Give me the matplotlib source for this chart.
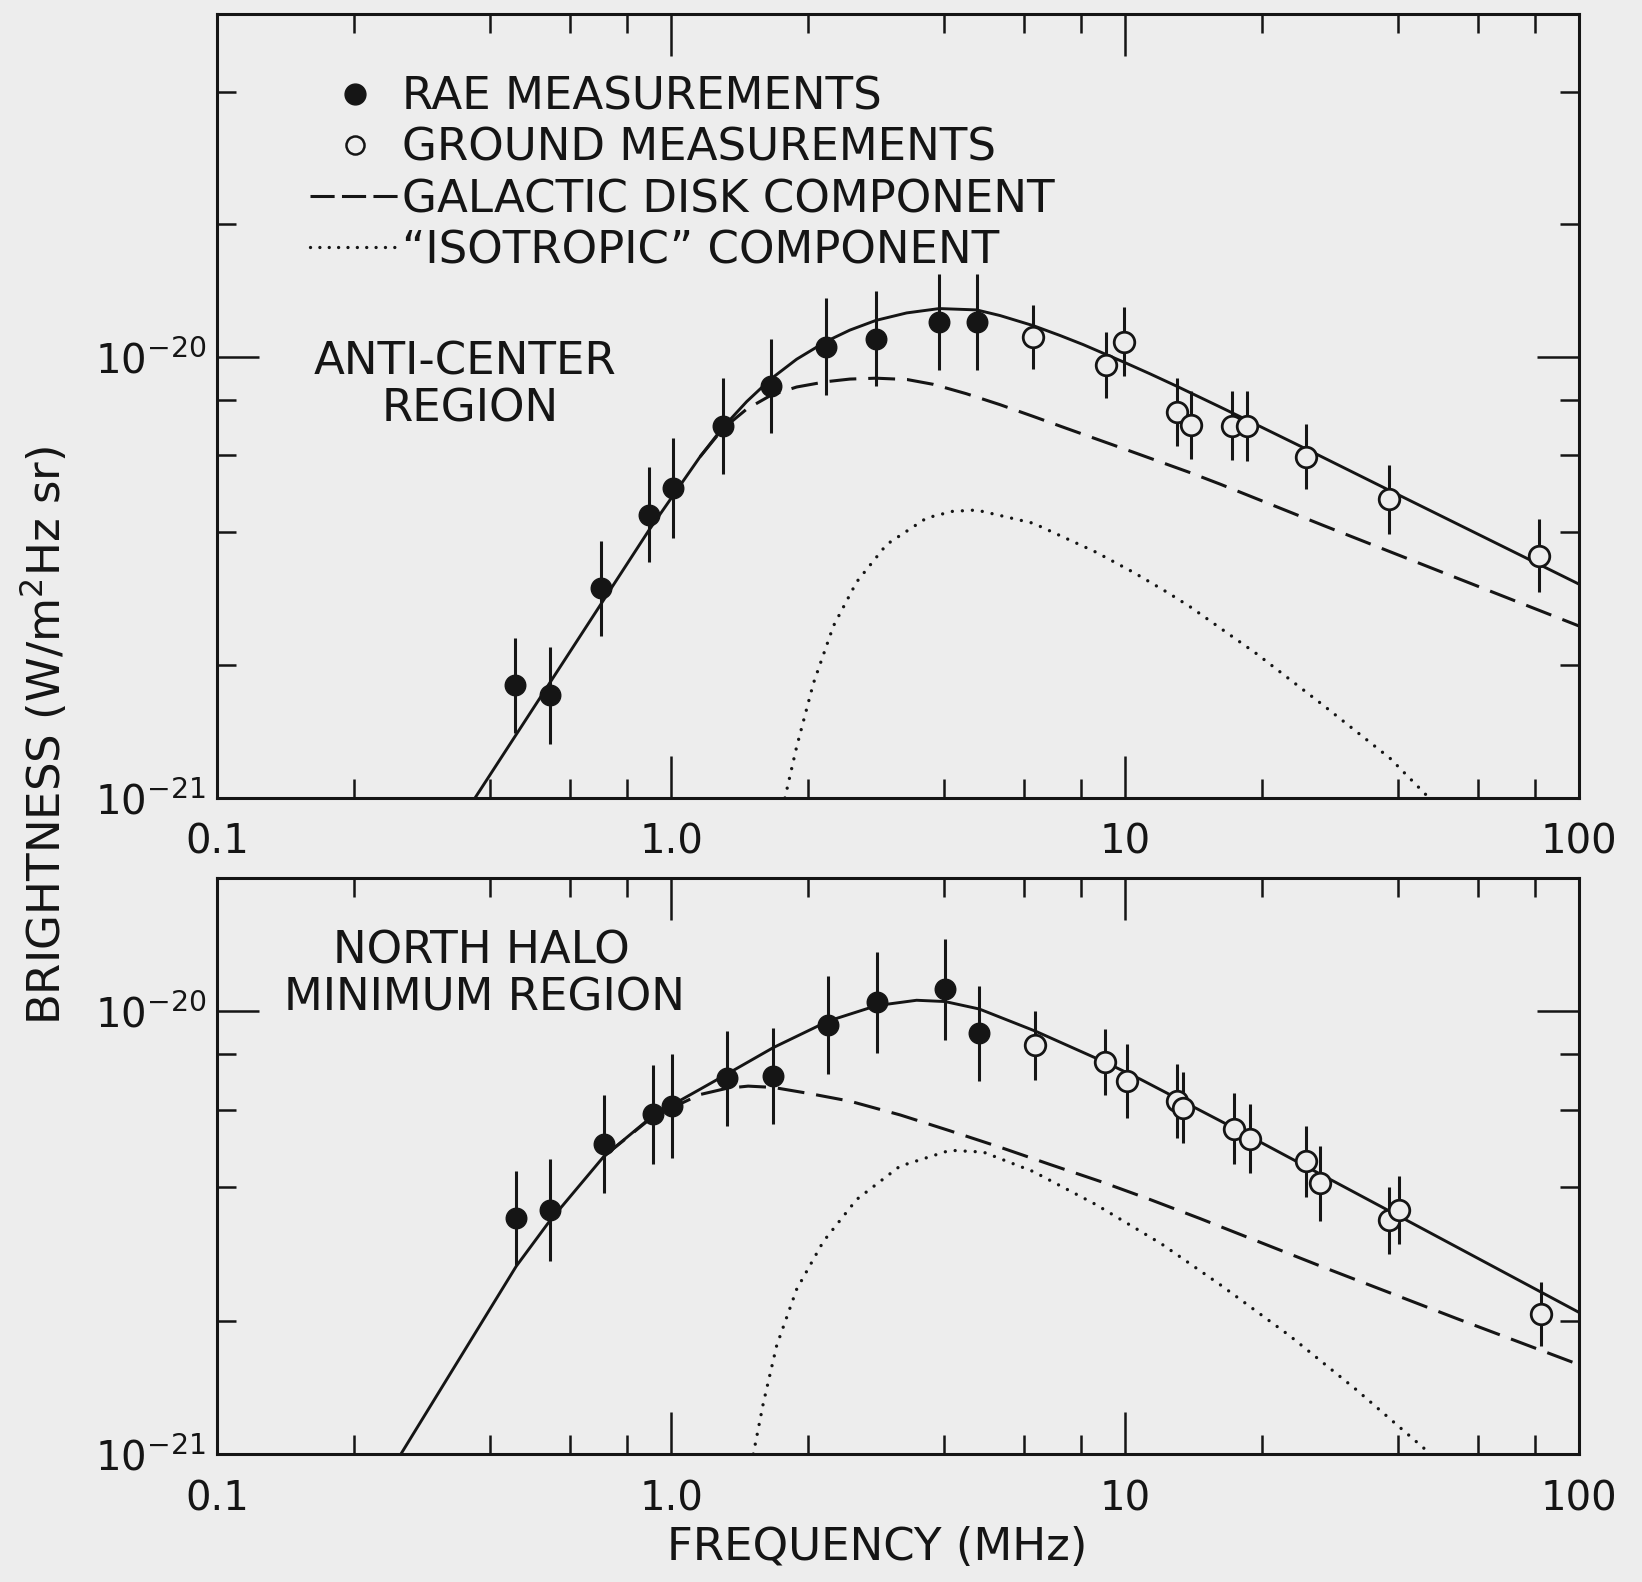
import numpy as np
import matplotlib
matplotlib.use('Agg')
import matplotlib.pyplot as plt
from matplotlib.lines import Line2D
from matplotlib.ticker import FixedLocator, FixedFormatter, NullFormatter

# ---------------- data (frequency in MHz, brightness in W m^-2 Hz^-1 sr^-1) ----------------
# Anti-center region
ac_rae_f = [0.453, 0.542, 0.702, 0.896, 1.01, 1.30, 1.66, 2.19, 2.83, 3.90, 4.71]
ac_rae_b = [1.80e-21, 1.71e-21, 2.99e-21, 4.39e-21, 5.04e-21, 6.98e-21, 8.59e-21,
            1.054e-20, 1.10e-20, 1.20e-20, 1.20e-20]
ac_rae_err = [0.107, 0.110, 0.108, 0.108, 0.113, 0.108, 0.107, 0.110, 0.108, 0.108, 0.108]  # dex

ac_gnd_f = [6.28, 9.08, 9.97, 13.0, 14.0, 17.2, 18.6, 25.0, 38.1, 81.8]
ac_gnd_b = [1.109e-20, 9.59e-21, 1.084e-20, 7.52e-21, 7.01e-21, 6.98e-21, 6.98e-21,
            5.94e-21, 4.76e-21, 3.54e-21]
ac_gnd_err = [0.073, 0.075, 0.078, 0.077, 0.077, 0.078, 0.080, 0.074, 0.078, 0.083]  # dex

ac_total_f = [0.370, 0.895, 1.159, 1.300, 1.468, 1.658, 1.891, 2.193, 2.477, 2.828, 3.304,
              3.899, 4.710, 5.304, 6.281, 7.194, 8.091, 9.966, 11.35, 12.99, 16.18, 18.58,
              25.00, 38.34, 100.0]
ac_total_b = [1.000e-21, 4.055e-21, 5.943e-21, 6.918e-21, 7.925e-21, 8.913e-21, 9.886e-21,
              1.084e-20, 1.151e-20, 1.211e-20, 1.259e-20, 1.288e-20, 1.279e-20, 1.242e-20,
              1.178e-20, 1.119e-20, 1.067e-20, 9.727e-21, 9.162e-21, 8.590e-21, 7.709e-21,
              7.194e-21, 6.194e-21, 4.977e-21, 3.055e-21]

ac_disk_f = [1.159, 1.300, 1.468, 1.658, 1.891, 2.193, 2.477, 2.828, 3.311, 3.784, 4.467,
             5.304, 6.293, 7.440, 10.00, 13.90, 16.18, 27.35, 53.78, 100.0]
ac_disk_b = [5.943e-21, 6.871e-21, 7.621e-21, 8.185e-21, 8.551e-21, 8.790e-21, 8.913e-21,
             8.954e-21, 8.892e-21, 8.670e-21, 8.260e-21, 7.798e-21, 7.328e-21, 6.887e-21,
             6.180e-21, 5.470e-21, 5.152e-21, 4.150e-21, 3.155e-21, 2.455e-21]

ac_iso_f = [1.782, 1.891, 2.059, 2.279, 2.564, 2.985, 3.656, 4.169, 4.710, 6.281, 8.610,
            10.47, 12.36, 13.90, 19.50, 27.35, 38.37, 46.77]
ac_iso_b = [1.000e-21, 1.306e-21, 1.820e-21, 2.455e-21, 3.090e-21, 3.758e-21, 4.315e-21,
            4.467e-21, 4.498e-21, 4.198e-21, 3.614e-21, 3.243e-21, 2.931e-21, 2.716e-21,
            2.123e-21, 1.622e-21, 1.230e-21, 1.000e-21]

# North halo minimum region
nh_rae_f = [0.456, 0.542, 0.711, 0.911, 1.005, 1.33, 1.68, 2.22, 2.84, 4.01, 4.78]
nh_rae_b = [3.41e-21, 3.55e-21, 5.02e-21, 5.85e-21, 6.11e-21, 7.05e-21, 7.14e-21,
            9.31e-21, 1.047e-20, 1.122e-20, 8.91e-21]
nh_rae_err = [0.106, 0.115, 0.111, 0.111, 0.117, 0.108, 0.109, 0.111, 0.114, 0.114, 0.107]

nh_gnd_f = [6.35, 9.04, 10.1, 13.0, 13.4, 17.4, 18.9, 25.1, 26.9, 38.1, 40.2, 82.3]
nh_gnd_b = [8.38e-21, 7.67e-21, 6.95e-21, 6.27e-21, 6.05e-21, 5.43e-21, 5.16e-21,
            4.58e-21, 4.09e-21, 3.37e-21, 3.56e-21, 2.07e-21]
nh_gnd_err = [0.078, 0.075, 0.083, 0.083, 0.080, 0.080, 0.077, 0.080, 0.085, 0.075, 0.077, 0.072]

nh_total_f = [0.2541, 0.456, 0.540, 0.711, 0.912, 1.159, 1.327, 1.680, 2.221, 2.838, 3.475,
              4.013, 4.775, 6.353, 9.036, 10.79, 16.18, 19.50, 38.37, 100.0]
nh_total_b = [1.000e-21, 2.655e-21, 3.357e-21, 4.699e-21, 5.808e-21, 6.668e-21, 7.211e-21,
              8.279e-21, 9.506e-21, 1.030e-20, 1.059e-20, 1.052e-20, 1.012e-20, 9.016e-21,
              7.674e-21, 7.031e-21, 5.662e-21, 5.117e-21, 3.532e-21, 2.089e-21]

nh_disk_f = [0.711, 0.912, 1.159, 1.327, 1.479, 1.680, 2.023, 2.477, 3.195, 4.117, 5.304,
             6.838, 8.810, 11.35, 14.62, 27.35, 53.78, 100.0]
nh_disk_b = [4.699e-21, 5.781e-21, 6.486e-21, 6.699e-21, 6.776e-21, 6.730e-21, 6.516e-21,
             6.266e-21, 5.834e-21, 5.370e-21, 4.932e-21, 4.508e-21, 4.130e-21, 3.758e-21,
             3.404e-21, 2.642e-21, 2.023e-21, 1.592e-21]

nh_iso_f = [1.518, 1.597, 1.709, 1.891, 2.165, 2.564, 3.192, 4.117, 4.875, 6.281, 8.610,
            12.02, 16.33, 23.07, 32.36, 46.13, 46.99]
nh_iso_b = [1.000e-21, 1.303e-21, 1.758e-21, 2.355e-21, 3.020e-21, 3.758e-21, 4.467e-21,
            4.853e-21, 4.808e-21, 4.345e-21, 3.664e-21, 2.985e-21, 2.399e-21, 1.849e-21,
            1.396e-21, 1.019e-21, 1.000e-21]

x_major = [0.1, 1.0, 10.0, 100.0]
x_major_labels = ['0.1', '1.0', '10', '100']
x_minor = [0.2, 0.4, 0.6, 0.8, 2, 4, 6, 8, 20, 40, 60, 80]
y_major = [1e-21, 1e-20]
y_major_labels = [r'$10^{-21}$', r'$10^{-20}$']
ac_y_minor = [2e-21, 4e-21, 6e-21, 8e-21, 2e-20, 4e-20]
nh_y_minor = [2e-21, 4e-21, 6e-21, 8e-21]

legend_labels = ['RAE MEASUREMENTS', 'GROUND MEASUREMENTS',
                 'GALACTIC DISK COMPONENT', '\u201cISOTROPIC\u201d COMPONENT']

# ---------------- style ----------------
INK = '#151515'
BG = '#ededed'
plt.rcParams['font.family'] = ['DejaVu Sans']
plt.rcParams['mathtext.fontset'] = 'dejavusans'
TXT = 32.5

fig = plt.figure(figsize=(16.42, 15.82), dpi=100, facecolor=BG)
ax1 = fig.add_axes([0.1322, 0.4956, 0.8294, 0.4956])
ax2 = fig.add_axes([0.1322, 0.0809, 0.8294, 0.3641])

DASH = (0, (8.8, 3.9))
DOT = (0, (0.01, 3.0))


def err(b, e):
    b = np.asarray(b, dtype=float)
    e = np.asarray(e, dtype=float)
    return [b - b * 10 ** (-e), b * 10 ** e - b]


def panel(ax, rf, rb, re, gf, gb, ge, tf, tb, df, db, isf, isb, ylim, yminor):
    ax.set_facecolor(BG)
    ax.set_xscale('log')
    ax.set_yscale('log')
    ax.plot(tf, tb, color=INK, lw=2.1, zorder=2, solid_joinstyle='round')
    ax.plot(df, db, color=INK, lw=2.2, ls=DASH, zorder=2)
    ax.plot(isf, isb, color=INK, lw=2.4, ls=DOT, dash_capstyle='round', zorder=2)
    ax.errorbar(rf, rb, yerr=err(rb, re), fmt='o', ms=14.8, color=INK, mec=INK,
                ecolor=INK, elinewidth=2.2, capsize=0, zorder=4)
    ax.errorbar(gf, gb, yerr=err(gb, ge), fmt='o', ms=14.8, mfc=BG, mec=INK, mew=2.0,
                ecolor=INK, elinewidth=2.2, capsize=0, zorder=4)
    ax.set_xlim(0.1, 100)
    ax.set_ylim(*ylim)
    ax.xaxis.set_major_locator(FixedLocator(x_major))
    ax.xaxis.set_major_formatter(FixedFormatter(x_major_labels))
    ax.xaxis.set_minor_locator(FixedLocator(x_minor))
    ax.xaxis.set_minor_formatter(NullFormatter())
    ax.yaxis.set_major_locator(FixedLocator(y_major))
    ax.yaxis.set_major_formatter(FixedFormatter(y_major_labels))
    ax.yaxis.set_minor_locator(FixedLocator(yminor))
    ax.yaxis.set_minor_formatter(NullFormatter())
    ax.tick_params(which='both', direction='in', top=True, right=True, color=INK,
                   labelcolor=INK, width=1.8)
    ax.tick_params(which='major', length=30, labelsize=29)
    ax.tick_params(which='minor', length=14)
    ax.tick_params(axis='x', which='major', pad=18)
    ax.tick_params(axis='y', which='major', pad=8)
    for s in ax.spines.values():
        s.set_linewidth(2.2)
        s.set_color(INK)


panel(ax1, ac_rae_f, ac_rae_b, ac_rae_err, ac_gnd_f, ac_gnd_b, ac_gnd_err,
      ac_total_f, ac_total_b, ac_disk_f, ac_disk_b, ac_iso_f, ac_iso_b,
      (1e-21, 6e-20), ac_y_minor)
panel(ax2, nh_rae_f, nh_rae_b, nh_rae_err, nh_gnd_f, nh_gnd_b, nh_gnd_err,
      nh_total_f, nh_total_b, nh_disk_f, nh_disk_b, nh_iso_f, nh_iso_b,
      (1e-21, 2e-20), nh_y_minor)

handles = [
    Line2D([], [], marker='o', ls='none', ms=15, color=INK),
    Line2D([], [], marker='o', ls='none', ms=13, mfc=BG, mec=INK, mew=1.8),
    Line2D([], [], color=INK, lw=2.2, ls=(0, (7.9, 2.4))),
    Line2D([], [], color=INK, lw=2.4, ls=(0, (0.01, 2.8)), dash_capstyle='round'),
]
leg = ax1.legend(handles, legend_labels, loc='upper left', bbox_to_anchor=(0.068, 0.921),
                 frameon=False, fontsize=TXT, handlelength=2.0, handletextpad=0.05,
                 labelspacing=0.18, borderpad=0, borderaxespad=0)
for t in leg.get_texts():
    t.set_color(INK)

ax1.text(0.182, 0.5555, 'ANTI-CENTER', transform=ax1.transAxes, ha='center', va='center',
         fontsize=TXT, color=INK)
ax1.text(0.1858, 0.496, 'REGION', transform=ax1.transAxes, ha='center', va='center',
         fontsize=TXT, color=INK)
ax2.text(0.1938, 0.873, 'NORTH HALO', transform=ax2.transAxes, ha='center', va='center',
         fontsize=TXT, color=INK)
ax2.text(0.196, 0.7917, 'MINIMUM REGION', transform=ax2.transAxes, ha='center', va='center',
         fontsize=TXT, color=INK)

fig.text(0.027, 0.535, r'BRIGHTNESS (W/m$^2$Hz sr)', rotation=90, ha='center', va='center',
         fontsize=TXT, color=INK)
fig.text(0.534, 0.0218, 'FREQUENCY (MHz)', ha='center', va='center', fontsize=TXT, color=INK)

fig.savefig('out.png', dpi=100, facecolor=BG)
